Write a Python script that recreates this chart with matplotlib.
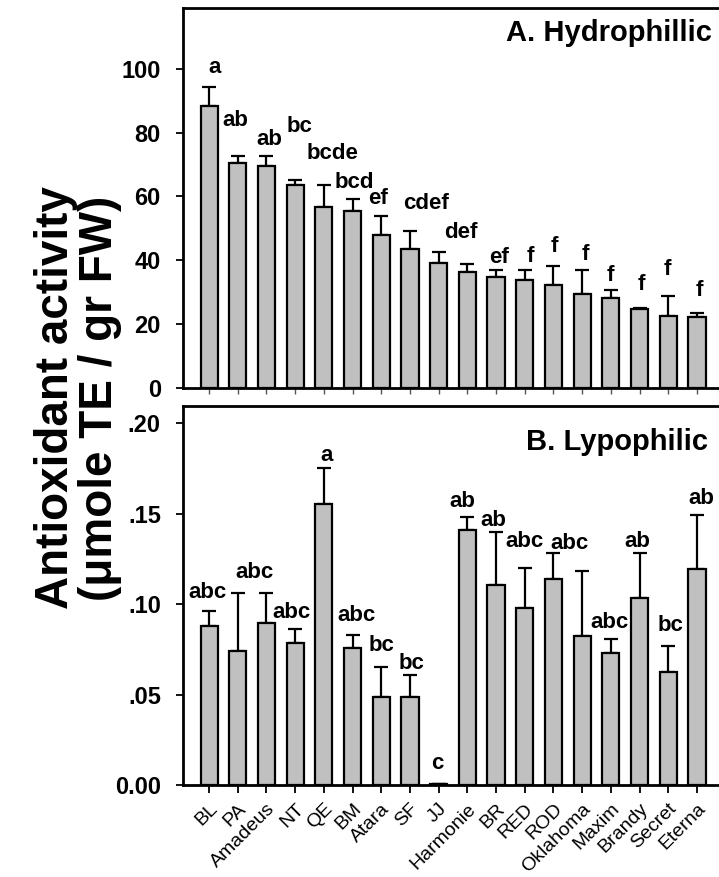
import matplotlib
matplotlib.use("Agg")
import matplotlib.pyplot as plt
import numpy as np

plt.rcParams['font.family'] = ['Liberation Sans', 'DejaVu Sans']

cultivars = ["BL", "PA", "Amadeus", "NT", "QE", "BM", "Atara", "SF", "JJ",
             "Harmonie", "BR", "RED", "ROD", "Oklahoma", "Maxim", "Brandy",
             "Secret", "Eterna"]

# A. Hydrophilic
hydro_mean = [88.3, 70.6, 69.6, 63.6, 56.7, 55.5, 48.0, 43.5, 39.0, 36.3,
              34.8, 33.9, 32.3, 29.5, 28.3, 24.8, 22.7, 22.3]
hydro_err = [6.0, 2.2, 3.2, 1.4, 7.0, 3.8, 5.8, 5.6, 3.7, 2.4,
             2.1, 3.2, 6.0, 7.3, 2.4, 0.3, 6.1, 1.3]
hydro_letters = ["a", "ab", "ab", "bc", "bcde", "bcd", "ef", "cdef", "def", "",
                 "ef", "f", "f", "f", "f", "f", "f", "f"]
hydro_label_dx = [0.2, -0.08, 0.1, 0.16, 0.29, 0.06, -0.1, 0.56, 0.78, 0.0,
                  0.1, 0.18, 0.02, 0.1, 0.0, 0.08, -0.02, 0.08]
hydro_label_y = [100.5, 83.9, 77.9, 82.0, 73.5, 64.4, 59.2, 57.7, 48.6, 0.0,
                 40.8, 41.3, 44.4, 41.8, 35.1, 32.5, 37.2, 30.4]

# B. Lipophilic
lipo_mean = [0.0878, 0.0742, 0.0897, 0.0786, 0.1551, 0.0755, 0.0486, 0.0486,
             0.0007, 0.1409, 0.1103, 0.0976, 0.1138, 0.0825, 0.0728, 0.1031,
             0.0626, 0.1195]
lipo_err = [0.0085, 0.032, 0.0165, 0.0078, 0.0199, 0.0074, 0.0168, 0.012,
            0.0, 0.0071, 0.0293, 0.0221, 0.0142, 0.0357, 0.0077, 0.0249,
            0.0144, 0.0298]
lipo_letters = ["abc", "abc", "", "abc", "a", "abc", "bc", "bc", "c", "ab",
                "ab", "abc", "abc", "", "abc", "ab", "bc", "ab"]
lipo_label_dx = [-0.06, 0.58, 0.0, -0.13, 0.1, 0.15, 0.0, 0.07, -0.04, -0.16,
                 -0.08, 0.0, 0.57, 0.0, -0.05, -0.07, 0.07, 0.15]
lipo_label_y = [0.1062, 0.1173, 0.0, 0.0955, 0.1823, 0.0939, 0.0773, 0.0672,
                0.012, 0.1565, 0.146, 0.1344, 0.1335, 0.0, 0.090, 0.1344,
                0.0884, 0.1584]

W, H = 719, 877
fig = plt.figure(figsize=(W / 100, H / 100), dpi=100)

def px_axes(left, top, right, bottom):
    return fig.add_axes([left / W, 1 - bottom / H, (right - left) / W, (bottom - top) / H])

ax1 = px_axes(183, 8, 723, 388)
ax2 = px_axes(183, 406, 723, 785)

x = np.arange(len(cultivars))
xlim = (-0.91, (723 - 209) / 28.7)
bar_kw = dict(width=0.6, color="#c0c0c0", edgecolor="black", linewidth=1.6, zorder=2)
err_kw = dict(fmt="none", ecolor="black", elinewidth=1.6, capsize=5, capthick=1.6, zorder=1)
label_kw = dict(ha="center", va="center", fontsize=16, fontweight="bold")

for ax in (ax1, ax2):
    for side in ("left", "top", "bottom", "right"):
        ax.spines[side].set_linewidth(2.0)
    ax.set_xlim(*xlim)
    ax.tick_params(axis="y", direction="out", length=5, width=1.3,
                   labelsize=17, pad=11)

# Top panel
ax1.bar(x, hydro_mean, **bar_kw)
ax1.errorbar(x, hydro_mean, yerr=[np.zeros(len(x)), hydro_err], **err_kw)
ax1.set_ylim(0, 119)
ax1.set_yticks([0, 20, 40, 60, 80, 100])
ax1.set_yticklabels(["0", "20", "40", "60", "80", "100"], fontweight="bold")
ax1.set_xticks(x)
ax1.set_xticklabels([])
ax1.tick_params(axis="x", direction="out", length=4, width=1.0, color="#555555")
for i, t in enumerate(hydro_letters):
    if t:
        ax1.text(x[i] + hydro_label_dx[i], hydro_label_y[i], t, **label_kw)
ax1.text(0.98, 0.934, "A. Hydrophillic", transform=ax1.transAxes,
         ha="right", va="center", fontsize=21, fontweight="bold")

# Bottom panel
ax2.bar(x, lipo_mean, **bar_kw)
ax2.errorbar(x, lipo_mean, yerr=[np.zeros(len(x)), lipo_err], **err_kw)
ax2.set_ylim(0, 0.2094)
ax2.set_yticks([0, 0.05, 0.10, 0.15, 0.20])
ax2.set_yticklabels(["0.00", ".05", ".10", ".15", ".20"], fontweight="bold")
ax2.set_xticks(x)
ax2.set_xticklabels(cultivars, rotation=45, ha="right", rotation_mode="anchor",
                    fontsize=14)
ax2.tick_params(axis="x", direction="out", length=6, width=1.3, pad=5)
for i, t in enumerate(lipo_letters):
    if t:
        ax2.text(x[i] + lipo_label_dx[i], lipo_label_y[i], t, **label_kw)
ax2.text(0.972, 0.905, "B. Lypophilic", transform=ax2.transAxes,
         ha="right", va="center", fontsize=21, fontweight="bold")

fig.text(78 / W, 1 - 398 / H, "Antioxidant activity\n(μmole TE / gr FW)",
         rotation=90, ha="center", va="center", multialignment="center",
         fontsize=33, fontweight="bold", linespacing=1.0)

fig.savefig("out.png", dpi=100)
